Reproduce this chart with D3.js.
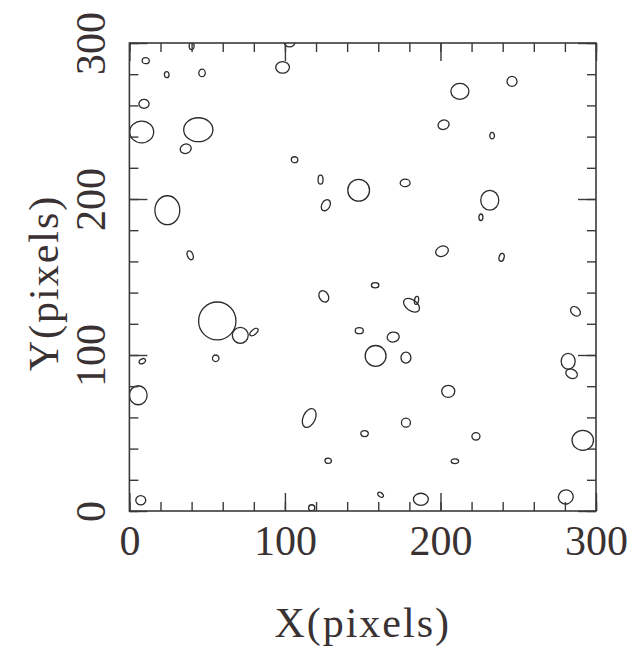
<!DOCTYPE html>
<html>
<head>
<meta charset="utf-8">
<script src="https://cdn.jsdelivr.net/npm/d3@7"></script>
<style>
  html, body { margin: 0; padding: 0; background: #fff; }
  text { font-family: "Liberation Serif", serif; fill: #3a3232; }
</style>
</head>
<body>
<div id="chart"></div>
<script>
// Source positions in pixels (x, y) with ellipse half-axes and tilt
const srcX = [10.5, 24, 40, 46.7, 98.5, 103, 9.4, 7.9, 44.3, 36.2, 24.4, 39.1,
  106.2, 122.9, 126.3, 147.4, 177.3, 212.5, 246, 202, 233.2, 231.7, 226, 201, 239.3,
  56.5, 71.3, 80.1, 55.5, 8.3, 5.7, 7.3,
  125, 158, 181.4, 184.6, 147.8, 169.6, 158.3, 177.8, 115.6, 177.8, 151.2, 127.8, 117.2, 161.5, 187.4,
  286.8, 282.1, 284.3, 205, 222.8, 209.3, 291.5, 280.6];
const srcY = [288.7, 279.7, 298, 280.8, 284.4, 300.5, 261, 243, 244.4, 232.2, 192.8, 163.9,
  225.2, 212.4, 196, 205.6, 210.3, 269, 275.4, 247.6, 240.6, 199.2, 188.3, 166.5, 162.6,
  121.8, 112.6, 114.7, 97.9, 96, 74.2, 6.9,
  137.6, 144.7, 131.9, 135, 115.6, 111.5, 99.4, 98.3, 59.6, 56.6, 49.6, 32.2, 2, 10.4, 7.5,
  128, 96, 88, 76.7, 47.9, 31.9, 45.3, 9];
const srcA = [2.3, 1.5, 1.6, 2.1, 4.4, 3.5, 3.3, 7.7, 9.4, 3.6, 8, 1.8,
  2.1, 1.6, 2.6, 7, 3.2, 5.8, 3.2, 3.6, 1.5, 5.8, 1.3, 4.2, 1.6,
  12, 5.1, 3.2, 2.1, 2.2, 5.7, 3.2,
  2.9, 2.4, 5.8, 1.3, 2.6, 3.9, 6.7, 3.2, 3.9, 2.9, 2.4, 2.1, 2, 2.1, 4.8,
  3.5, 4.5, 3.9, 4.2, 2.6, 2.4, 6.9, 4.8];
const srcB = [1.9, 1.9, 2.3, 2.4, 3.7, 3, 2.9, 7, 7.7, 3, 9.3, 3,
  1.9, 2.9, 3.8, 7, 2.4, 5.1, 3.2, 3, 2.1, 6.4, 2.1, 3.2, 2.6,
  12.2, 5.1, 1.6, 2.1, 1.5, 6.1, 3,
  3.9, 1.7, 3.5, 2.6, 1.9, 3.2, 6.7, 3.5, 6.4, 2.9, 1.9, 1.7, 2, 1.3, 3.9,
  2.6, 5.1, 2.9, 3.9, 2.4, 1.5, 6.4, 4.5];
const srcTheta = [0, 0, 0, 0, 0, 0, 0, 0, 0, -20, 0, -20,
  0, 0, 30, 0, 0, 0, 0, -20, 0, 0, 0, -25, 15,
  0, 0, -40, 0, -25, 0, 0,
  -30, 0, 35, 10, 0, -10, 0, 0, 25, 0, 0, 0, 0, 35, 0,
  40, 0, 25, 0, 0, 0, 0, -20];

const majorTicks = [0, 100, 200, 300];
const minorTicks = d3.range(0, 301, 20);

const width = 636, height = 652;
const margin = { top: 43, right: 40, bottom: 141, left: 129.4 };

const svg = d3.select("#chart").append("svg")
  .attr("width", width)
  .attr("height", height);

const x = d3.scaleLinear().domain([0, 300]).range([margin.left, width - margin.right]);
const y = d3.scaleLinear().domain([0, 300]).range([height - margin.bottom, margin.top]);
const k = x(1) - x(0);

svg.append("clipPath").attr("id", "plot-clip")
  .append("rect")
  .attr("x", x(0)).attr("y", y(300))
  .attr("width", x(300) - x(0)).attr("height", y(0) - y(300));

// Ellipses
const sources = srcX.map((d, i) => ({ x: d, y: srcY[i], a: srcA[i], b: srcB[i], t: srcTheta[i] }));

svg.append("g")
  .attr("clip-path", "url(#plot-clip)")
  .selectAll("ellipse")
  .data(sources)
  .join("ellipse")
  .attr("transform", d => `translate(${x(d.x)},${y(d.y)}) rotate(${d.t})`)
  .attr("rx", d => d.a * k)
  .attr("ry", d => d.b * k)
  .attr("fill", "none")
  .attr("stroke", "#2b2b2b")
  .attr("stroke-width", 1.3);

// Axes: ticks point inward on all four sides
const axisColor = "#3a3a3a";
function styleAxis(g) {
  g.select(".domain").remove();
  g.selectAll("line").attr("stroke", axisColor).attr("stroke-width", 1.4);
}

svg.append("g").attr("transform", `translate(0,${y(0)})`)
  .call(d3.axisBottom(x).tickValues(minorTicks).tickSize(-9).tickFormat(""))
  .call(styleAxis);
svg.append("g").attr("transform", `translate(0,${y(0)})`)
  .call(d3.axisBottom(x).tickValues(majorTicks).tickSize(-18).tickPadding(14))
  .call(styleAxis)
  .call(g => g.selectAll("text").attr("font-size", 42).attr("font-family", "Liberation Serif").attr("fill", "#3a3232"));

svg.append("g").attr("transform", `translate(0,${y(300)})`)
  .call(d3.axisTop(x).tickValues(minorTicks).tickSize(-9).tickFormat(""))
  .call(styleAxis);
svg.append("g").attr("transform", `translate(0,${y(300)})`)
  .call(d3.axisTop(x).tickValues(majorTicks).tickSize(-18).tickFormat(""))
  .call(styleAxis);

svg.append("g").attr("transform", `translate(${x(0)},0)`)
  .call(d3.axisLeft(y).tickValues(minorTicks).tickSize(-9).tickFormat(""))
  .call(styleAxis);
svg.append("g").attr("transform", `translate(${x(0)},0)`)
  .call(d3.axisLeft(y).tickValues(majorTicks).tickSize(-18))
  .call(styleAxis)
  .call(g => g.selectAll("text")
    .attr("x", 0).attr("y", -24).attr("dy", 0)
    .attr("transform", "rotate(-90)")
    .attr("text-anchor", "middle")
    .attr("font-size", 42).attr("font-family", "Liberation Serif").attr("fill", "#3a3232"));

svg.append("g").attr("transform", `translate(${x(300)},0)`)
  .call(d3.axisRight(y).tickValues(minorTicks).tickSize(-9).tickFormat(""))
  .call(styleAxis);
svg.append("g").attr("transform", `translate(${x(300)},0)`)
  .call(d3.axisRight(y).tickValues(majorTicks).tickSize(-18).tickFormat(""))
  .call(styleAxis);

// Frame
svg.append("rect")
  .attr("x", x(0)).attr("y", y(300))
  .attr("width", x(300) - x(0)).attr("height", y(0) - y(300))
  .attr("fill", "none")
  .attr("stroke", axisColor)
  .attr("stroke-width", 1.6);

// Axis titles
svg.append("text")
  .attr("x", (x(0) + x(300)) / 2)
  .attr("y", 637)
  .attr("text-anchor", "middle")
  .attr("font-size", 42)
  .attr("letter-spacing", 2)
  .text("X(pixels)");

svg.append("text")
  .attr("transform", `translate(58,${(y(0) + y(300)) / 2 + 6}) rotate(-90)`)
  .attr("text-anchor", "middle")
  .attr("font-size", 42)
  .attr("letter-spacing", 2)
  .text("Y(pixels)");
</script>
</body>
</html>
